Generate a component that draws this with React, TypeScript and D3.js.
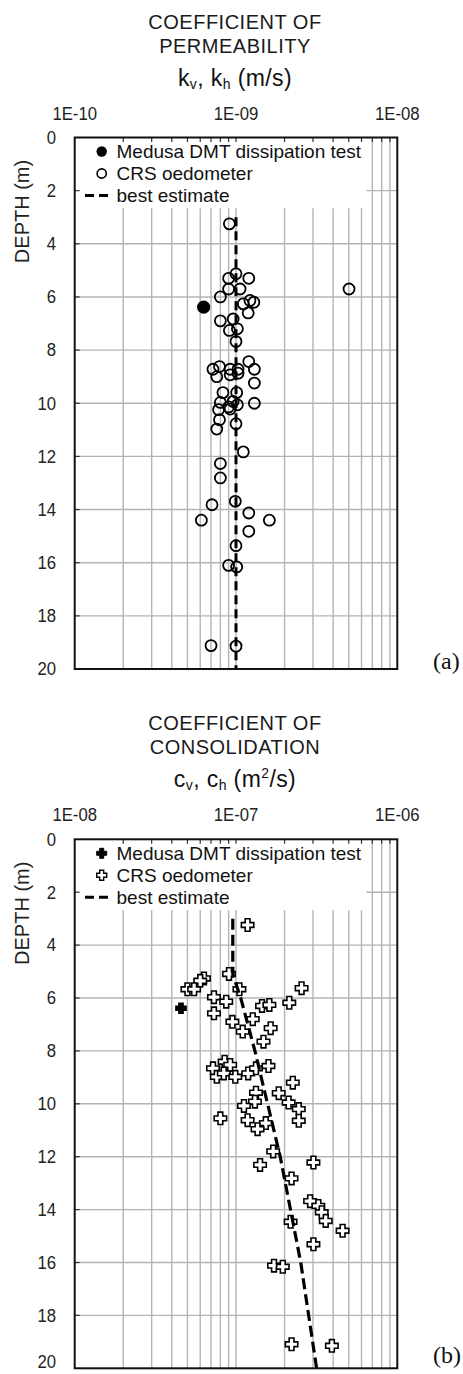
import React from 'react';
import * as d3 from 'd3';

// ---------- data ----------
const DEPTH_TICKS = [0, 2, 4, 6, 8, 10, 12, 14, 16, 18, 20];
const LEGEND_LABELS = ['Medusa DMT dissipation test', 'CRS oedometer', 'best estimate'];

// (a) permeability
const K_TICK_VALUES = [1e-10, 1e-9, 1e-8];
const K_TICK_LABELS = ['1E-10', '1E-09', '1E-08'];
const K_DMT_DEPTH = [6.38];
const K_DMT_VALUE = [0.63e-9];
const K_CRS_DEPTH = [
  3.25, 5.13, 5.3, 5.3, 5.7, 5.7, 5.7, 6.0, 6.13, 6.2, 6.26, 6.6, 6.83, 6.9, 7.2, 7.26, 7.68,
  8.43, 8.62, 8.72, 8.72, 8.72, 8.72, 8.93, 8.87, 9.0, 9.24, 9.6, 9.6, 9.97, 9.93, 10.0, 10.06,
  10.14, 10.22, 10.24, 10.62, 10.77, 10.97, 11.83, 12.27, 12.81, 13.69, 13.82, 14.13, 14.4, 14.4,
  14.82, 15.36, 16.1, 16.16, 19.12, 19.14,
];
const K_CRS_VALUE = [
  0.91e-9, 1.0e-9, 0.9e-9, 1.2e-9, 0.9e-9, 1.06e-9, 5.02e-9, 0.8e-9, 1.22e-9, 1.29e-9, 1.11e-9,
  1.19e-9, 0.96e-9, 0.8e-9, 1.02e-9, 0.91e-9, 1.0e-9,
  1.2e-9, 0.79e-9, 0.72e-9, 0.92e-9, 1.03e-9, 1.3e-9, 0.92e-9, 1.03e-9, 0.76e-9, 1.3e-9, 0.83e-9,
  1.01e-9, 0.8e-9, 0.96e-9, 1.3e-9, 1.02e-9,
  0.9e-9, 0.92e-9, 0.78e-9, 0.79e-9, 1.0e-9, 0.76e-9, 1.11e-9, 0.8e-9, 0.8e-9, 0.99e-9, 0.71e-9,
  1.2e-9, 0.61e-9, 1.61e-9,
  1.2e-9, 1.0e-9, 0.9e-9, 1.01e-9, 0.7e-9, 1.0e-9,
];
const K_BEST_DEPTH = [3, 20];
const K_BEST_VALUE = [1e-9, 1e-9];

// (b) consolidation
const C_TICK_VALUES = [1e-8, 1e-7, 1e-6];
const C_TICK_LABELS = ['1E-08', '1E-07', '1E-06'];
const C_DMT_DEPTH = [6.39];
const C_DMT_VALUE = [0.456e-7];
const C_CRS_DEPTH = [
  3.24, 5.09, 5.26, 5.35, 5.67, 5.67, 5.67, 5.63, 5.97, 6.14, 6.3, 6.26, 6.18, 6.58, 6.9, 6.8,
  7.27, 7.14, 7.65, 8.41, 8.53, 8.66, 8.98, 8.85, 8.98, 8.85, 8.66, 8.57, 9.2, 9.58, 9.6, 9.92,
  10.08, 9.95, 10.2, 10.55, 10.62, 10.64, 10.73, 10.96, 11.8, 12.31, 12.22, 12.82, 13.68, 13.86,
  14.1, 14.43, 14.8, 14.46, 15.31, 16.12, 16.16, 19.09, 19.15,
];
const C_CRS_VALUE = [
  1.18e-7, 0.905e-7, 0.633e-7, 0.6e-7, 0.5e-7, 0.55e-7, 1.05e-7, 2.55e-7, 0.73e-7, 0.87e-7,
  1.45e-7, 1.61e-7, 2.14e-7, 0.73e-7, 0.95e-7, 1.27e-7,
  1.1e-7, 1.64e-7, 1.48e-7, 0.85e-7, 0.92e-7, 0.72e-7, 0.76e-7, 0.84e-7, 0.99e-7, 1.19e-7,
  1.33e-7, 1.59e-7, 2.25e-7, 1.33e-7, 1.84e-7, 1.31e-7,
  1.12e-7, 2.12e-7, 2.45e-7, 0.8e-7, 1.18e-7, 2.45e-7, 1.53e-7, 1.36e-7, 1.7e-7, 1.41e-7,
  3.02e-7, 2.21e-7, 2.88e-7, 3.24e-7,
  3.4e-7, 3.6e-7, 4.58e-7, 2.18e-7, 3.02e-7, 1.72e-7, 1.95e-7, 2.21e-7, 3.93e-7,
];
const C_BEST_DEPTH = [3, 5.1, 6, 8, 12, 16, 20];
const C_BEST_VALUE = [0.955e-7, 0.955e-7, 1.07e-7, 1.31e-7, 1.88e-7, 2.52e-7, 3.16e-7];

// ---------- drawing ----------
const FONT = 'Arial, "Liberation Sans", Helvetica, sans-serif';
const PLOT_LEFT = 74.7;
const PLOT_RIGHT = 397.3;
const LEGEND_RIGHT = 366.5;
const LEGEND_H = 70.8;
const PAGE_H = 1374;

function crossPath(L: number, w: number) {
  return `M${-w},${-L}H${w}V${-w}H${L}V${w}H${w}V${L}H${-w}V${w}H${-L}V${-w}H${-w}Z`;
}

type PanelProps = {
  top: number;
  bottom: number;
  domain: [number, number];
  tickValues: number[];
  tickLabels: string[];
  title1: string;
  title2: string;
  unit: React.ReactNode;
  dmtDepth: number[];
  dmtValue: number[];
  crsDepth: number[];
  crsValue: number[];
  bestDepth: number[];
  bestValue: number[];
  marker: 'circle' | 'cross';
  tag: string;
  tagY: number;
};

function Panel(p: PanelProps) {
  const x = d3.scaleLog().domain(p.domain).range([PLOT_LEFT, PLOT_RIGHT]);
  const y = d3.scaleLinear().domain([0, 20]).range([p.top, p.bottom]);
  const minor: number[] = [];
  const lo = Math.round(Math.log10(p.domain[0]));
  const hi = Math.round(Math.log10(p.domain[1]));
  for (let e = lo; e < hi; e++) {
    for (let m = 1; m <= 9; m++) {
      const v = m * Math.pow(10, e);
      if (v > p.domain[0] * 1.0001) minor.push(v);
    }
  }
  const hGrid = DEPTH_TICKS.filter((d) => d > 0 && d < 20);
  const legTop = p.top;
  const legBottom = p.top + LEGEND_H;
  const line = d3
    .line<number>()
    .x((_, i) => x(p.bestValue[i]))
    .y((d) => y(d));
  const crsPts = p.crsDepth.map((d, i) => [x(p.crsValue[i]), y(d)]);
  const dmtPts = p.dmtDepth.map((d, i) => [x(p.dmtValue[i]), y(d)]);
  const cx = (PLOT_LEFT + PLOT_RIGHT) / 2 - 1;
  const legRows = [14, 36, 58].map((v) => p.top + v);

  return (
    <g>
      {/* titles */}
      <text x={cx} y={p.top - 109} textAnchor="middle" fontSize={20} letterSpacing={0.5} fontFamily={FONT} fill="#1a1a1a">
        {p.title1}
      </text>
      <text x={cx} y={p.top - 85} textAnchor="middle" fontSize={20} letterSpacing={0.5} fontFamily={FONT} fill="#1a1a1a">
        {p.title2}
      </text>
      <text x={cx} y={p.top - 52} textAnchor="middle" fontSize={23} letterSpacing={0.4} fontFamily={FONT} fill="#111">
        {p.unit}
      </text>
      {/* x tick labels */}
      {p.tickValues.map((v, i) => (
        <g key={'xt' + i} transform={`translate(${x(v)},${p.top - 18}) scale(0.88,1)`}>
          <text textAnchor="middle" fontSize={19} fontFamily={FONT} fill="#222">
            {p.tickLabels[i]}
          </text>
        </g>
      ))}
      {/* y tick labels */}
      {DEPTH_TICKS.map((d) => (
        <g key={'yt' + d} transform={`translate(56,${Math.min(y(d), PAGE_H - 12)}) scale(0.88,1)`}>
          <text textAnchor="end" dominantBaseline="central" fontSize={19} fontFamily={FONT} fill="#222">
            {d}
          </text>
        </g>
      ))}
      <text
        transform={`translate(29,${p.top + 74}) rotate(-90)`}
        textAnchor="middle"
        fontSize={20}
        fontFamily={FONT}
        fill="#222"
      >
        DEPTH (m)
      </text>
      {/* grid */}
      {minor.map((v, i) => (
        <line key={'vg' + i} x1={x(v)} x2={x(v)} y1={p.top} y2={p.bottom} stroke="#b4b4b4" strokeWidth={1.4} />
      ))}
      {hGrid.map((d) => (
        <line key={'hg' + d} x1={PLOT_LEFT} x2={PLOT_RIGHT} y1={y(d)} y2={y(d)} stroke="#b4b4b4" strokeWidth={1.4} />
      ))}
      {/* legend background */}
      <rect x={PLOT_LEFT} y={legTop} width={LEGEND_RIGHT - PLOT_LEFT} height={legBottom - legTop} fill="#fff" />
      {/* ticks */}
      {minor.map((v, i) => (
        <line key={'tk' + i} x1={x(v)} x2={x(v)} y1={p.top} y2={p.top + 4.5} stroke="#333" strokeWidth={1.2} />
      ))}
      {hGrid.map((d) => (
        <line key={'ytk' + d} x1={PLOT_LEFT} x2={PLOT_LEFT + 5} y1={y(d)} y2={y(d)} stroke="#333" strokeWidth={1.2} />
      ))}
      {/* legend */}
      {p.marker === 'circle' ? (
        <g>
          <circle cx={101.7} cy={legRows[0]} r={5.2} fill="#000" />
          <circle cx={101.7} cy={legRows[1]} r={4.6} fill="none" stroke="#000" strokeWidth={1.6} />
        </g>
      ) : (
        <g>
          <path d={crossPath(5, 2)} transform={`translate(101.7,${legRows[0]})`} fill="#000" stroke="#000" strokeWidth={1} />
          <path d={crossPath(5, 2)} transform={`translate(101.7,${legRows[1]})`} fill="#fff" stroke="#000" strokeWidth={1.4} />
        </g>
      )}
      <line x1={85} x2={109} y1={legRows[2]} y2={legRows[2]} stroke="#000" strokeWidth={3} strokeDasharray="9,5" />
      {LEGEND_LABELS.map((t, i) => (
        <text key={'lg' + i} x={116.5} y={legRows[i]} dominantBaseline="central" fontSize={19} fontFamily={FONT} fill="#111">
          {t}
        </text>
      ))}
      {/* best estimate */}
      {p.marker === 'circle' ? (
        <path d={line(p.bestDepth) || ''} fill="none" stroke="#000" strokeWidth={3} strokeDasharray="9,5" />
      ) : null}
      {/* data */}
      {p.marker === 'circle'
        ? crsPts.map((q, i) => (
            <circle key={'c' + i} cx={q[0]} cy={q[1]} r={5.5} fill="none" stroke="#000" strokeWidth={1.8} />
          ))
        : crsPts.map((q, i) => (
            <path key={'c' + i} d={crossPath(6.2, 2.4)} transform={`translate(${q[0]},${q[1]})`} fill="#fff" stroke="#000" strokeWidth={1.6} />
          ))}
      {p.marker === 'cross' ? (
        <path d={line(p.bestDepth) || ''} fill="none" stroke="#000" strokeWidth={3.2} strokeDasharray="11,5" />
      ) : null}
      {p.marker === 'circle'
        ? dmtPts.map((q, i) => <circle key={'d' + i} cx={q[0]} cy={q[1]} r={6.6} fill="#000" />)
        : dmtPts.map((q, i) => (
            <path key={'d' + i} d={crossPath(5.2, 2.2)} transform={`translate(${q[0]},${q[1]})`} fill="#000" stroke="#000" strokeWidth={1.2} />
          ))}
      {/* border */}
      <rect x={PLOT_LEFT} y={p.top} width={PLOT_RIGHT - PLOT_LEFT} height={p.bottom - p.top} fill="none" stroke="#111" strokeWidth={2} />
      <text x={433} y={p.tagY} fontSize={24} fontFamily='"Times New Roman", "Liberation Serif", serif' fill="#111">
        {p.tag}
      </text>
    </g>
  );
}

export default function App() {
  return (
    <svg
      width={463}
      height={PAGE_H}
      viewBox={`0 0 463 ${PAGE_H}`}
      style={{ position: 'absolute', left: 0, top: 0, background: '#fff', display: 'block' }}
    >
      <rect width={463} height={PAGE_H} fill="#fff" />
      <Panel
        top={137.5}
        bottom={669}
        domain={[1e-10, 1e-8]}
        tickValues={K_TICK_VALUES}
        tickLabels={K_TICK_LABELS}
        title1="COEFFICIENT OF"
        title2="PERMEABILITY"
        unit={
          <>
            k<tspan fontSize={14} dy={3}>v</tspan>
            <tspan dy={-3}>, k</tspan>
            <tspan fontSize={14} dy={3}>h</tspan>
            <tspan dy={-3}> (m/s)</tspan>
          </>
        }
        dmtDepth={K_DMT_DEPTH}
        dmtValue={K_DMT_VALUE}
        crsDepth={K_CRS_DEPTH}
        crsValue={K_CRS_VALUE}
        bestDepth={K_BEST_DEPTH}
        bestValue={K_BEST_VALUE}
        marker="circle"
        tag="(a)"
        tagY={669}
      />
      <Panel
        top={839.3}
        bottom={1368.3}
        domain={[1e-8, 1e-6]}
        tickValues={C_TICK_VALUES}
        tickLabels={C_TICK_LABELS}
        title1="COEFFICIENT OF"
        title2="CONSOLIDATION"
        unit={
          <>
            c<tspan fontSize={14} dy={3}>v</tspan>
            <tspan dy={-3}>, c</tspan>
            <tspan fontSize={14} dy={3}>h</tspan>
            <tspan dy={-3}> (m</tspan>
            <tspan fontSize={14} dy={-9}>2</tspan>
            <tspan dy={9}>/s)</tspan>
          </>
        }
        dmtDepth={C_DMT_DEPTH}
        dmtValue={C_DMT_VALUE}
        crsDepth={C_CRS_DEPTH}
        crsValue={C_CRS_VALUE}
        bestDepth={C_BEST_DEPTH}
        bestValue={C_BEST_VALUE}
        marker="cross"
        tag="(b)"
        tagY={1363}
      />
    </svg>
  );
}
